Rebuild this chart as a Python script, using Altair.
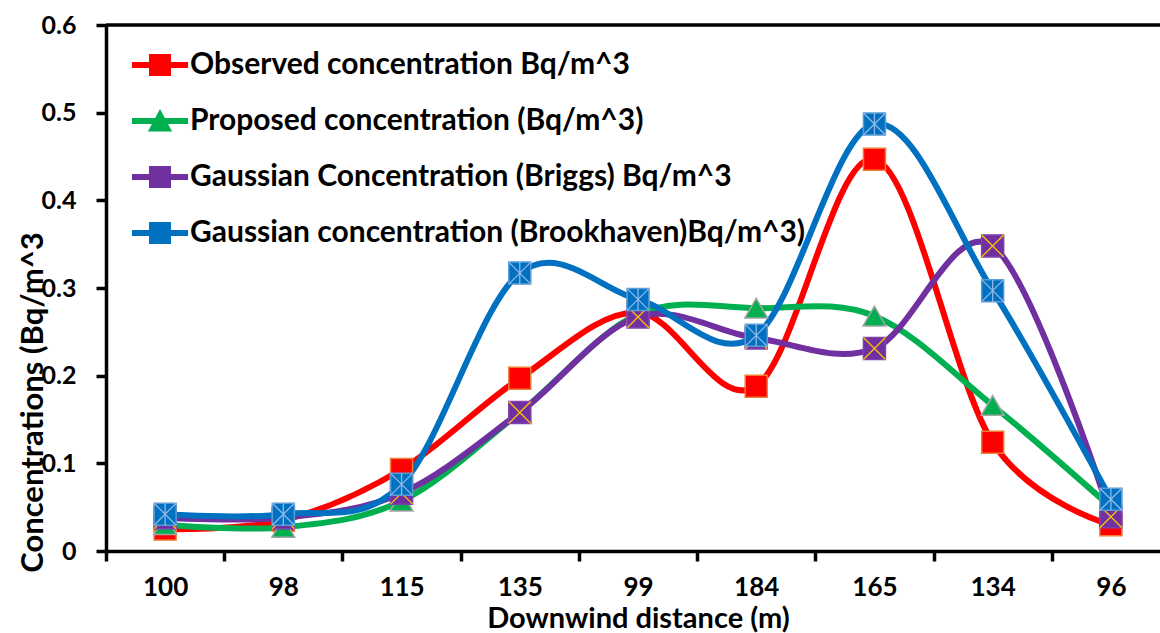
import altair as alt
import pandas as pd

categories = ["100", "98", "115", "135", "99", "184", "165", "134", "96"]
observed = [0.025, 0.035, 0.093, 0.197, 0.272, 0.188, 0.447, 0.124, 0.030]
proposed = [0.030, 0.027, 0.057, 0.158, 0.270, 0.277, 0.268, 0.166, 0.050]
briggs = [0.038, 0.038, 0.066, 0.158, 0.267, 0.243, 0.231, 0.348, 0.039]
brookhaven = [0.042, 0.042, 0.076, 0.317, 0.287, 0.246, 0.487, 0.297, 0.059]

series_names = [
    "Observed concentration Bq/m^3",
    "Proposed concentration (Bq/m^3)",
    "Gaussian Concentration (Briggs) Bq/m^3",
    "Gaussian concentration (Brookhaven)Bq/m^3)",
]
colors = ["#FF0000", "#00B050", "#7030A0", "#0070C0"]
y_ticks = [0, 0.1, 0.2, 0.3, 0.4, 0.5, 0.6]

rows = []
for name, vals in zip(series_names, [observed, proposed, briggs, brookhaven]):
    for c, v in zip(categories, vals):
        rows.append({"distance": c, "conc": v, "series": name})
df = pd.DataFrame(rows)

FONT = "Lato"

x_enc = alt.X(
    "distance:N",
    sort=categories,
    scale=alt.Scale(type="band", range=[0, 1064], paddingInner=0, paddingOuter=0),
    axis=alt.Axis(
        title="Downwind distance (m)",
        tickBand="extent",
        labelAngle=0,
        labelFont=FONT,
        labelFontSize=26,
        labelFontWeight="bold",
        labelColor="black",
        labelPadding=13,
        titleFont=FONT,
        titleFontSize=29,
        titleFontWeight="bold",
        titleColor="black",
        titleX=532,
        titleY=67,
        titleBaseline="middle",
        titleAlign="center",
        domainColor="black",
        domainWidth=3.5,
        tickColor="black",
        tickWidth=3.5,
        tickSize=10,
        grid=False,
    ),
)

y_enc = alt.Y(
    "conc:Q",
    scale=alt.Scale(domain=[0, 0.6], nice=False, zero=True),
    axis=alt.Axis(
        values=y_ticks,
        labelExpr="datum.value == 0 ? '0' : format(datum.value, '.1f')",
        title="Concentrations (Bq/m^3",
        labelFont=FONT,
        labelFontSize=25,
        labelFontWeight="bold",
        labelColor="black",
        labelPadding=20,
        titleFont=FONT,
        titleFontSize=31,
        titleFontWeight="bold",
        titleColor="black",
        titleAngle=270,
        titleX=-73,
        titleY=377,
        titleAlign="center",
        titleBaseline="middle",
        domainColor="black",
        domainWidth=3.5,
        tickColor="black",
        tickWidth=3.5,
        tickSize=10,
        grid=False,
    ),
)

color_scale = alt.Scale(domain=series_names, range=colors)

base = alt.Chart(df)

top_rule = alt.Chart(pd.DataFrame({"top": [0.6]})).mark_rule(
    color="black", strokeWidth=3.5
).encode(y=alt.Y("top:Q", scale=alt.Scale(domain=[0, 0.6], nice=False)))

layers = [top_rule]

for name in series_names:
    layers.append(
        base.transform_filter(alt.datum.series == name)
        .mark_line(interpolate="cardinal", tension=0, strokeWidth=6)
        .encode(x=x_enc, y=y_enc, color=alt.Color("series:N", scale=color_scale, legend=None))
    )

marker_style = {
    series_names[0]: dict(shape="square", stroke="#ED7D31", size=484),
    series_names[1]: dict(shape="triangle-up", stroke="#A5A5A5", size=520),
    series_names[2]: dict(shape="square", stroke="#7F3FB0", size=484),
    series_names[3]: dict(shape="square", stroke="#5B9BD5", size=484),
}

for name in series_names:
    st = marker_style[name]
    layers.append(
        base.transform_filter(alt.datum.series == name)
        .mark_point(filled=True, opacity=1, shape=st["shape"], size=st["size"],
                    stroke=st["stroke"], strokeWidth=1.5)
        .encode(x=x_enc, y=y_enc, color=alt.Color("series:N", scale=color_scale, legend=None))
    )
    if name == series_names[2]:
        layers.append(
            base.transform_filter(alt.datum.series == name)
            .mark_point(filled=False, shape="M-1,-1L1,1M-1,1L1,-1", size=484,
                        stroke="#FFC000", strokeWidth=1.3, opacity=1)
            .encode(x=x_enc, y=y_enc)
        )
    if name == series_names[3]:
        layers.append(
            base.transform_filter(alt.datum.series == name)
            .mark_point(filled=False, shape="M-1,-1L1,1M-1,1L1,-1M0,-1L0,1", size=484,
                        stroke="#8FB8E6", strokeWidth=1.3, opacity=1)
            .encode(x=x_enc, y=y_enc)
        )

line_sq = "M-2.55,-0.27H2.55V0.27H-2.55Z M-1,-1H1V1H-1Z"
line_tri = "M-2.55,-0.27H2.55V0.27H-2.55Z M0,-1.1L1.1,0.95H-1.1Z"
legend_shapes = [line_sq, line_tri, line_sq, line_sq]

legend = alt.Legend(
    orient="none",
    legendX=39,
    legendY=25,
    title=None,
    padding=0,
    labelFont=FONT,
    labelFontSize=30,
    labelFontWeight="bold",
    labelColor="black",
    labelLimit=0,
    labelOffset=15,
    symbolSize=484,
    symbolStrokeWidth=0,
    symbolOpacity=1,
    rowPadding=26,
)

legend_layer = base.mark_point(filled=True, opacity=0).encode(
    x=x_enc,
    y=y_enc,
    color=alt.Color("series:N", scale=color_scale, legend=legend, sort=series_names),
    shape=alt.Shape("series:N", scale=alt.Scale(domain=series_names, range=legend_shapes),
                    legend=legend, sort=series_names),
)
layers.append(legend_layer)

chart = alt.layer(*layers).resolve_scale(
    color="independent", shape="independent"
).properties(
    width=1054,
    height=526,
    autosize=alt.AutoSizeParams(type="none"),
    padding={"left": 106, "top": 25, "right": 0, "bottom": 82},
    background="white",
).configure_view(stroke=None)

chart.save("out.html", embed_options={"renderer": "svg", "actions": False})
